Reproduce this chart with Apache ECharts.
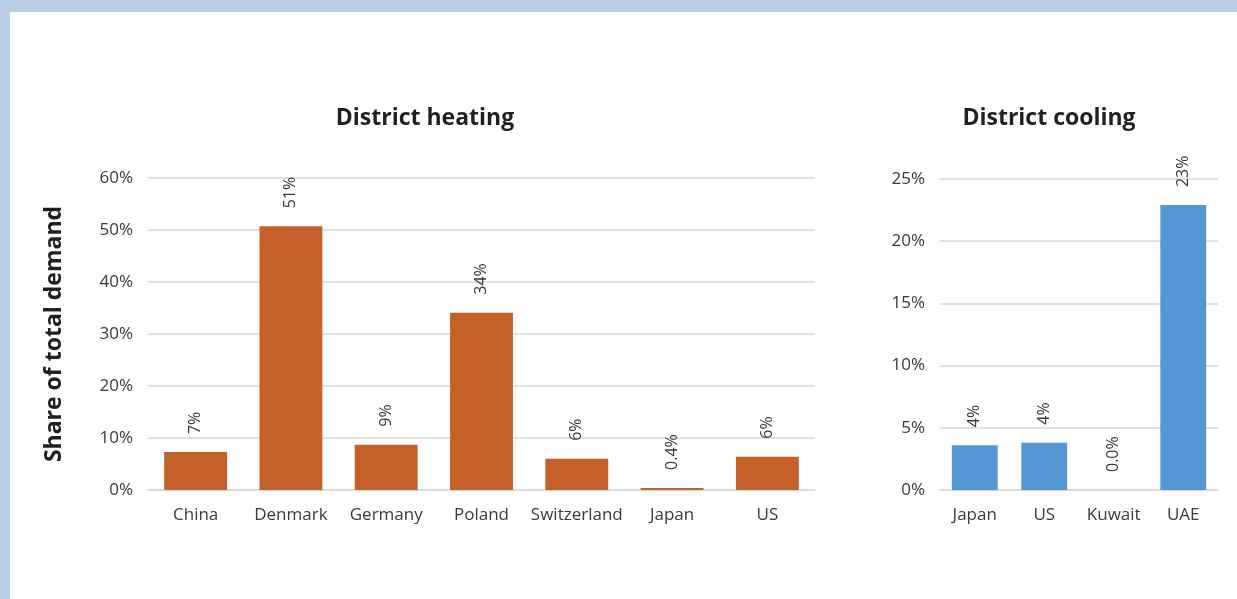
<!DOCTYPE html>
<html>
<head>
<meta charset="utf-8">
<script src="https://cdn.jsdelivr.net/npm/echarts@6/dist/echarts.min.js"></script>
<style>
  html, body { margin: 0; padding: 0; }
  body { background: #b9cde5; }
  #main {
    position: absolute; left: 10px; top: 12px;
    width: 1227px; height: 587px; background: #fff;
  }
</style>
</head>
<body>
<div id="main"></div>
<script>
let heatCountries = ['China', 'Denmark', 'Germany', 'Poland', 'Switzerland', 'Japan', 'US'];
let heatShare = [7.3, 50.7, 8.7, 34.1, 6.0, 0.4, 6.4];
let heatTicks = [0, 10, 20, 30, 40, 50, 60];

let coolCountries = ['Japan', 'US', 'Kuwait', 'UAE'];
let coolShare = [3.6, 3.8, 0.0, 22.9];
let coolTicks = [0, 5, 10, 15, 20, 25];

let chartDom = document.getElementById('main');
let myChart = echarts.init(chartDom);
let option;

const FONT = 'Open Sans';
const TEXT = '#3a3a3a';

function pctLabel(p) {
  let v = p.value;
  return v < 1 ? v.toFixed(1) + '%' : Math.round(v) + '%';
}

function barLabel() {
  return {
    show: true,
    position: 'top',
    distance: 18,
    rotate: 90,
    align: 'left',
    verticalAlign: 'middle',
    fontFamily: FONT,
    fontSize: 16,
    color: TEXT,
    formatter: pctLabel
  };
}

function catAxis(idx, data) {
  return {
    type: 'category',
    gridIndex: idx,
    data: data,
    axisTick: { show: false },
    axisLine: { lineStyle: { color: '#d9d9d9', width: 1.5 } },
    axisLabel: { fontFamily: FONT, fontSize: 17, color: TEXT, margin: 17, interval: 0 }
  };
}

function valAxis(idx, ticks, extra) {
  return Object.assign({
    type: 'value',
    gridIndex: idx,
    min: ticks[0],
    max: ticks[ticks.length - 1],
    interval: ticks[1] - ticks[0],
    axisLine: { show: false },
    axisTick: { show: false },
    splitLine: { lineStyle: { color: '#d9d9d9', width: 1.5 } },
    axisLabel: {
      fontFamily: FONT, fontSize: 17, color: TEXT, margin: 15,
      formatter: '{value}%'
    }
  }, extra || {});
}

option = {
  animation: false,
  backgroundColor: '#fff',
  title: [
    {
      text: 'District heating',
      left: 410, top: 90, textAlign: 'center',
      textStyle: { fontFamily: FONT, fontSize: 23, fontWeight: 'bold', color: '#231f20' }
    },
    {
      text: 'District cooling',
      left: 1034, top: 90, textAlign: 'center',
      textStyle: { fontFamily: FONT, fontSize: 23, fontWeight: 'bold', color: '#231f20' }
    }
  ],
  grid: [
    { left: 138, width: 667, top: 166, height: 312 },
    { left: 930, width: 278, top: 167, height: 311 }
  ],
  xAxis: [
    catAxis(0, heatCountries),
    catAxis(1, coolCountries)
  ],
  yAxis: [
    valAxis(0, heatTicks, {
      name: 'Share of total demand',
      nameLocation: 'middle',
      nameGap: 82,
      nameTextStyle: { fontFamily: FONT, fontSize: 23, fontWeight: 'bold', color: '#231f20' }
    }),
    valAxis(1, coolTicks)
  ],
  series: [
    {
      name: 'District heating',
      type: 'bar',
      xAxisIndex: 0,
      yAxisIndex: 0,
      data: heatShare,
      barCategoryGap: '34%',
      itemStyle: { color: '#c4612a' },
      label: barLabel()
    },
    {
      name: 'District cooling',
      type: 'bar',
      xAxisIndex: 1,
      yAxisIndex: 1,
      data: coolShare,
      barCategoryGap: '34%',
      itemStyle: { color: '#5597d3' },
      label: barLabel()
    }
  ]
};

myChart.setOption(option);
</script>
</body>
</html>
